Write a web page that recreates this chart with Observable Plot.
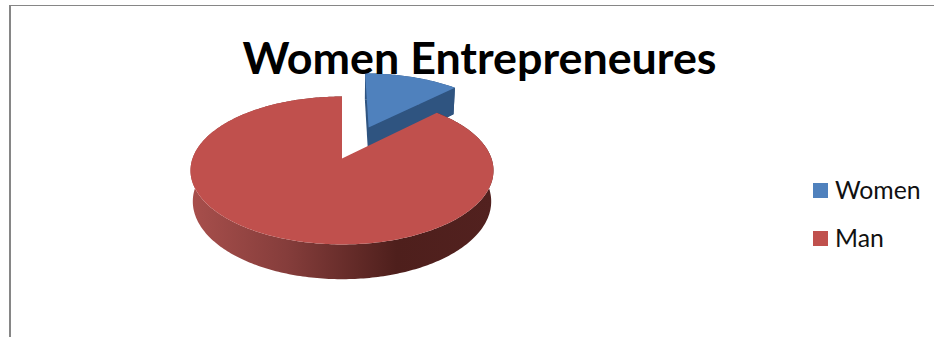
<!DOCTYPE html>
<html>
<head>
<meta charset="utf-8">
<script src="https://cdn.jsdelivr.net/npm/d3@7"></script>
<script src="https://cdn.jsdelivr.net/npm/@observablehq/plot@0.6"></script>
<style>
  html, body { margin: 0; padding: 0; background: #fff; }
  #chart { position: relative; width: 934px; height: 337px; overflow: hidden; font-family: Lato, sans-serif; color: #000; }
  #chart svg { position: absolute; left: 0; top: 0; }
  #frame { position: absolute; left: 9px; top: 5px; right: -5px; bottom: -5px; border-left: 2px solid #868686; border-top: 1px solid #868686; }
  #title { position: absolute; left: 0; width: 959px; top: 31px; text-align: center; font-weight: 700; font-size: 44.8px; line-height: 52px; white-space: nowrap; }
  .key { position: absolute; left: 813px; height: 30px; font-size: 24.8px; line-height: 30px; white-space: nowrap; color: #111; }
  .key i { position: absolute; left: 0; top: 7px; width: 15px; height: 15px; }
  .key span { position: absolute; left: 22px; top: -1px; }
</style>
</head>
<body>
<div id="chart"></div>
<script>
const titleText = "Women Entrepreneures";
const categories = ["Women", "Man"];
const shares = [12.5, 87.5];
const topColors = ["#4f81bd", "#c0504d"];
const sideColors = ["#2f5480", "url(#manSide)"];
const explode = [0.5, 0];

// tilted-disc view: how far the far side shrinks, thickness and its shrink
const tilt = 0.162, drop = 0.43, dropShrink = 0.015;
const project = (a, b, z) => {
  const w = 1 + tilt * b + dropShrink * z;
  return { x: a / w, y: (b - drop * z) / w };
};

const arcs = d3.pie().sort(null)(shares);
const slice = (arc, i, z, withCentre = true) => {
  const mid = (arc.startAngle + arc.endAngle) / 2;
  const ox = explode[i] * Math.sin(mid), oy = explode[i] * Math.cos(mid);
  const n = Math.ceil((arc.endAngle - arc.startAngle) * 60);
  const pts = d3.range(n + 1).map(k => {
    const t = arc.startAngle + (arc.endAngle - arc.startAngle) * k / n;
    return project(ox + Math.sin(t), oy + Math.cos(t), z);
  });
  return withCentre ? [project(ox, oy, z), ...pts] : pts;
};
const side = (arc, i) => {
  const top = slice(arc, i, 0), bottom = slice(arc, i, 1);
  return [...top.slice(1), ...bottom.slice(1).reverse()];
};
const cutFace = (arc, i) => {
  const top = slice(arc, i, 0), bottom = slice(arc, i, 1);
  return [top[0], top[top.length - 1], bottom[bottom.length - 1], bottom[0]];
};
const poly = (pts, fill) => Plot.line(pts, { x: "x", y: "y", fill, stroke: "none", curve: "linear" });

const gradient = () => {
  const defs = d3.create("svg:defs");
  const g = defs.append("linearGradient").attr("id", "manSide");
  [[0, "#a84f4c"], [0.32, "#853d3b"], [0.68, "#4e1f1c"], [1, "#52211f"]].forEach(([o, c]) =>
    g.append("stop").attr("offset", o).attr("stop-color", c));
  return defs.node();
};

const chart = Plot.plot({
  width: 934, height: 337, margin: 0,
  style: { background: "transparent" },
  x: { axis: null, domain: [-1, 1], range: [192, 491] },
  y: { axis: null, domain: [-1, 1], range: [230, 86] },
  marks: [
    gradient,
    // Women, pulled out of the pie and lying behind the big slice
    poly(slice(arcs[0], 0, 1), sideColors[0]),
    poly(side(arcs[0], 0), sideColors[0]),
    poly(cutFace(arcs[0], 0), sideColors[0]),
    poly(slice(arcs[0], 0, 0), topColors[0]),
    // Man
    poly(side(arcs[1], 1), sideColors[1]),
    poly(slice(arcs[1], 1, 0), topColors[1])
  ]
});

const root = document.getElementById("chart");
root.innerHTML = '<div id="frame"></div>';
root.append(chart);
const title = document.createElement("div");
title.id = "title";
title.textContent = titleText;
root.append(title);
categories.forEach((c, i) => {
  const k = document.createElement("div");
  k.className = "key";
  k.style.top = (176 + i * 48) + "px";
  const sw = document.createElement("i");
  sw.style.background = topColors[i];
  const t = document.createElement("span");
  t.textContent = c;
  k.append(sw, t);
  root.append(k);
});
</script>
</body>
</html>
